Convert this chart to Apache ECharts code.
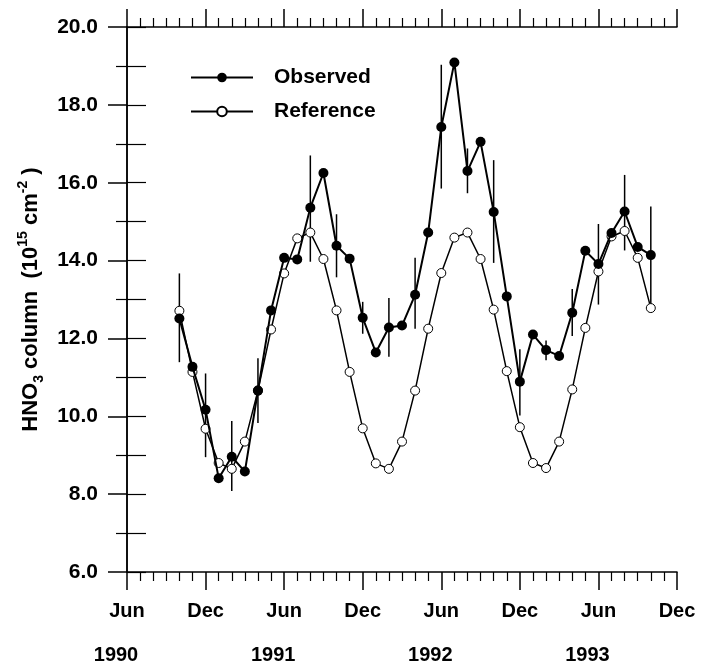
<!DOCTYPE html>
<html>
<head>
<meta charset="utf-8">
<script src="https://cdn.jsdelivr.net/npm/echarts@6/dist/echarts.min.js"></script>
<style>
  html, body { margin: 0; padding: 0; background: #fff; }
  #main { width: 701px; height: 665px; }
</style>
</head>
<body>
<div id="main"></div>
<script>
// months counted from Jun 1990 (0 = Jun 1990, 42 = Dec 1993)
var months = [4, 5, 6, 7, 8, 9, 10, 11, 12, 13, 14, 15, 16, 17, 18, 19, 20, 21, 22,
              23, 24, 25, 26, 27, 28, 29, 30, 31, 32, 33, 34, 35, 36, 37, 38, 39, 40];
var observed = [12.51, 11.27, 10.17, 8.41, 8.96, 8.58, 10.66, 12.72, 14.07, 14.03, 15.36, 16.25,
                14.38, 14.05, 12.53, 11.64, 12.28, 12.33, 13.12, 14.72, 17.43, 19.09, 16.30,
                17.05, 15.25, 13.08, 10.89, 12.10, 11.70, 11.55, 12.66, 14.25, 13.91, 14.71,
                15.26, 14.35, 14.14];
var reference = [12.71, 11.14, 9.68, 8.80, 8.65, 9.35, 10.66, 12.23, 13.67, 14.57, 14.72, 14.04,
                 12.72, 11.14, 9.69, 8.79, 8.65, 9.35, 10.66, 12.25, 13.68, 14.59, 14.72,
                 14.04, 12.74, 11.16, 9.72, 8.80, 8.67, 9.35, 10.69, 12.27, 13.72, 14.62,
                 14.76, 14.07, 12.78];
// error bars of the observed values
var errMonths = [4, 6, 8, 10, 14, 16, 18, 20, 22, 24, 26, 28, 30, 32, 34, 36, 38, 40];
var errLow  = [11.39, 8.95, 8.08, 9.83, 13.97, 13.57, 12.12, 11.53, 12.25, 15.85, 15.73, 13.94,
               10.02, 11.44, 12.06, 12.87, 14.26, 12.78];
var errHigh = [13.67, 11.10, 9.88, 11.49, 16.70, 15.19, 12.94, 13.04, 14.07, 19.03, 16.88, 16.58,
               11.72, 11.95, 13.27, 14.94, 16.20, 15.39];

var monthNames = ['Jun', 'Dec'];
var firstYear = 1990;

var dom = document.getElementById('main');
var myChart = echarts.init(dom);

var obsData = months.map(function (m, i) { return [m, observed[i]]; });
var refData = months.map(function (m, i) { return [m, reference[i]]; });
var errData = errMonths.map(function (m, i) { return [m, errLow[i], errHigh[i]]; });

var font = 'Liberation Sans, Arial, sans-serif';
var black = '#000';

option = {
    animation: false,
    backgroundColor: '#fff',
    grid: { left: 127, right: 24, top: 27, bottom: 91 },
    legend: {
        orient: 'vertical',
        left: 185,
        top: 62,
        itemWidth: 62,
        itemHeight: 12,
        itemGap: 13,
        data: ['Observed', 'Reference'],
        textStyle: { fontFamily: font, fontWeight: 'bold', fontSize: 21, color: black, padding: [0, 0, 0, 16] }
    },
    xAxis: [
        {
            type: 'value',
            min: 0, max: 42, interval: 6,
            position: 'bottom',
            axisLine: { lineStyle: { color: black, width: 1.5 } },
            axisTick: { length: 18, lineStyle: { color: black, width: 1.5 } },
            minorTick: { show: true, splitNumber: 6, length: 9, lineStyle: { color: black, width: 1.2 } },
            splitLine: { show: false },
            axisLabel: {
                margin: 29,
                showMaxLabel: true,
                formatter: function (v) {
                    var name = monthNames[(v / 6) % 2];
                    if (v % 12 === 0) return '{m|' + name + '}\n{y|' + (firstYear + v / 12) + '}';
                    return '{m|' + name + '}';
                },
                rich: {
                    m: { fontFamily: font, fontWeight: 'bold', fontSize: 20, color: black, lineHeight: 20 },
                    y: { fontFamily: font, fontWeight: 'bold', fontSize: 20, color: black, lineHeight: 68, padding: [0, 22, 0, 0] }
                }
            }
        },
        {
            type: 'value',
            min: 0, max: 42, interval: 6,
            position: 'top',
            axisLine: { lineStyle: { color: black, width: 1.5 } },
            axisTick: { length: 18, lineStyle: { color: black, width: 1.5 } },
            minorTick: { show: true, splitNumber: 6, length: 9, lineStyle: { color: black, width: 1.2 } },
            splitLine: { show: false },
            axisLabel: { show: false }
        }
    ],
    yAxis: [
        {
            type: 'value',
            min: 6, max: 20, interval: 2,
            position: 'left',
            name: '{a|HNO}{sub|3}{a| column  (10}{sup|15}{a| cm}{sup|-2}{a| )}',
            nameLocation: 'middle',
            nameRotate: 90,
            nameGap: 76,
            nameTextStyle: {
                rich: {
                    a: { fontFamily: font, fontWeight: 'bold', fontSize: 22, color: black, lineHeight: 30, verticalAlign: 'middle' },
                    sub: { fontFamily: font, fontWeight: 'bold', fontSize: 14, color: black, lineHeight: 30, verticalAlign: 'bottom' },
                    sup: { fontFamily: font, fontWeight: 'bold', fontSize: 14, color: black, lineHeight: 30, verticalAlign: 'top' }
                }
            },
            axisLine: { show: true, lineStyle: { color: black, width: 1.5 } },
            axisTick: { show: true, length: 19, lineStyle: { color: black, width: 1.5 } },
            minorTick: { show: true, splitNumber: 2, length: 11, lineStyle: { color: black, width: 1.2 } },
            splitLine: { show: false },
            axisLabel: {
                margin: 29,
                fontFamily: font, fontWeight: 'bold', fontSize: 21, color: black,
                formatter: function (v) { return v.toFixed(1); }
            }
        },
        {
            type: 'value',
            min: 6, max: 20, interval: 1,
            position: 'right',
            axisLine: { show: true, lineStyle: { color: black, width: 1.5 } },
            axisTick: { show: true, length: 19, lineStyle: { color: black, width: 1.2 } },
            splitLine: { show: false },
            axisLabel: { show: false }
        }
    ],
    series: [
        {
            name: 'errors',
            type: 'custom',
            xAxisIndex: 0,
            yAxisIndex: 0,
            z: 1,
            encode: { x: 0, y: [1, 2] },
            renderItem: function (params, api) {
                var lo = api.coord([api.value(0), api.value(1)]);
                var hi = api.coord([api.value(0), api.value(2)]);
                return {
                    type: 'line',
                    shape: { x1: lo[0], y1: lo[1], x2: hi[0], y2: hi[1] },
                    style: { stroke: black, lineWidth: 1.5 }
                };
            },
            data: errData
        },
        {
            name: 'Reference',
            type: 'line',
            z: 2,
            symbol: 'circle',
            symbolSize: 9,
            lineStyle: { color: black, width: 1.5 },
            itemStyle: { color: '#fff', borderColor: black, borderWidth: 1 },
            data: refData
        },
        {
            name: 'Observed',
            type: 'line',
            z: 3,
            symbol: 'circle',
            symbolSize: 10,
            lineStyle: { color: black, width: 2 },
            itemStyle: { color: black, borderColor: black, borderWidth: 0 },
            data: obsData
        }
    ]
};
if (option && typeof option === "object") {
    myChart.setOption(option, true);
}
</script>
</body>
</html>
